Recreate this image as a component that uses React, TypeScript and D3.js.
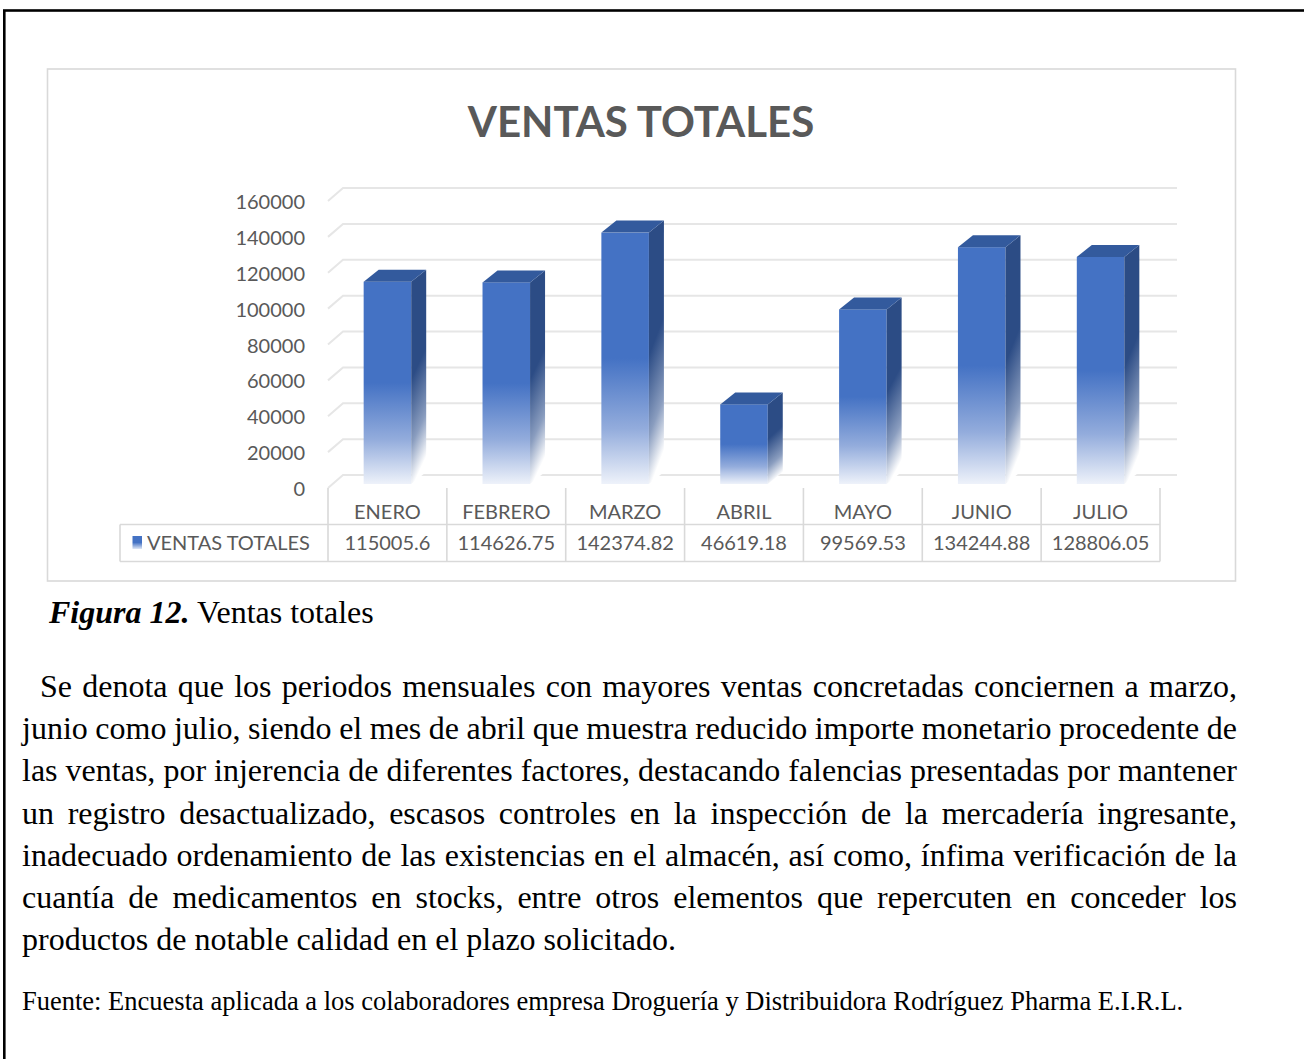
import React from 'react';
import * as d3 from 'd3';

const chartTitle = 'VENTAS TOTALES';
const seriesName = 'VENTAS TOTALES';
const categories = ['ENERO', 'FEBRERO', 'MARZO', 'ABRIL', 'MAYO', 'JUNIO', 'JULIO'];
const ventas = [115005.6, 114626.75, 142374.82, 46619.18, 99569.53, 134244.88, 128806.05];
const yTicks = [0, 20000, 40000, 60000, 80000, 100000, 120000, 140000, 160000];

const captionBold = 'Figura 12.';
const captionText = ' Ventas totales';
const paragraphLines = [
  'Se denota que los periodos mensuales con mayores ventas concretadas conciernen a marzo,',
  'junio como julio, siendo el mes de abril que muestra reducido importe monetario procedente de',
  'las ventas, por injerencia de diferentes factores, destacando falencias presentadas por mantener',
  'un registro desactualizado, escasos controles en la inspección de la mercadería ingresante,',
  'inadecuado ordenamiento de las existencias en el almacén, así como, ínfima verificación de la',
  'cuantía de medicamentos en stocks, entre otros elementos que repercuten en conceder los',
  'productos de notable calidad en el plazo solicitado.',
];
const sourceText =
  'Fuente: Encuesta aplicada a los colaboradores empresa Droguería y Distribuidora Rodríguez Pharma E.I.R.L.';

const SANS = "Lato, 'Open Sans', sans-serif";
const SERIF = "'Liberation Serif', 'Times New Roman', serif";
const TXT = '#595959';
const GRID = '#e6e6e6';
const TABLE = '#d9d9d9';

let _ctx: CanvasRenderingContext2D | null = null;
function measure(text: string, font: string): number {
  if (!_ctx) _ctx = document.createElement('canvas').getContext('2d');
  if (!_ctx) return text.length * 10;
  _ctx.font = font;
  return _ctx.measureText(text).width;
}

export default function App() {
  const W = 1304;
  const H = 1059;

  const x = d3.scaleBand<string>().domain(categories).range([328, 1160]).padding(0);
  const y = d3.scaleLinear().domain([0, 160000]).range([488, 201]);
  const bw = x.bandwidth();
  const barW = bw * 0.4;
  const dx = 15;
  const dyBar = 12;
  const dyWall = 13;
  const wallRight = 1177;
  const barBottom = y(0) - 4;

  // paragraph font fitted to the unjustified last line
  const pFs = Math.round((652 / measure(paragraphLines[6], `100px ${SERIF}`)) * 100 * 2) / 2;
  const pFont = `${pFs}px ${SERIF}`;
  const srcFs = Math.round((1166 / measure(sourceText, `100px ${SERIF}`)) * 100 * 2) / 2;

  const lineStart0 = 40;
  const lineStart = 22;
  const lineEnd = 1237;
  const firstBase = 697;
  const lineGap = 42.2;

  const lines = paragraphLines.map((line, i) => {
    const words = line.split(' ');
    const sx = i === 0 ? lineStart0 : lineStart;
    const widths = words.map((w) => measure(w, pFont));
    const last = i === paragraphLines.length - 1;
    const space = measure(' ', pFont);
    const gap = last
      ? space
      : (lineEnd - sx - d3.sum(widths)) / Math.max(1, words.length - 1);
    let cx = sx;
    const pos = words.map((w, k) => {
      const p = cx;
      cx += widths[k] + gap;
      return p;
    });
    return { words, pos, yb: firstBase + i * lineGap };
  });

  return (
    <svg
      width={W}
      height={H}
      viewBox={`0 0 ${W} ${H}`}
      style={{ position: 'absolute', left: 0, top: 0, background: '#fff' }}
    >
      <defs>
        <linearGradient id="gFront" x1="0" y1="0" x2="0" y2="1">
          <stop offset="0" stopColor="#4472c4" />
          <stop offset="0.5" stopColor="#4472c4" />
          <stop offset="0.78" stopColor="#93acdc" />
          <stop offset="1" stopColor="#eef2fa" />
        </linearGradient>
        <linearGradient id="gSide" x1="0" y1="0" x2="0.15" y2="1">
          <stop offset="0" stopColor="#2c4c85" />
          <stop offset="0.5" stopColor="#2c4c85" />
          <stop offset="0.8" stopColor="#8a9dbf" />
          <stop offset="1" stopColor="#ffffff" />
        </linearGradient>
        <linearGradient id="gKey" x1="0" y1="0" x2="0" y2="1">
          <stop offset="0" stopColor="#4472c4" />
          <stop offset="0.5" stopColor="#4472c4" />
          <stop offset="1" stopColor="#dfe7f5" />
        </linearGradient>
      </defs>

      <rect x={0} y={0} width={W} height={H} fill="#fff" />

      {/* outer frame */}
      <rect x={4.3} y={10.5} width={1400} height={1100} fill="none" stroke="#000" strokeWidth={2.6} />

      {/* chart area */}
      <rect x={47.5} y={69} width={1188} height={512} fill="#fff" stroke={TABLE} strokeWidth={1.6} />

      <text
        x={641}
        y={137}
        textAnchor="middle"
        fontFamily={SANS}
        fontWeight={700}
        fontSize={42}
        fill={TXT}
      >
        {chartTitle}
      </text>

      {/* gridlines with side-wall diagonals */}
      {yTicks.map((t) => (
        <path
          key={'g' + t}
          d={`M${x.range()[0]},${y(t)} L${x.range()[0] + dx},${y(t) - dyWall} L${wallRight},${y(t) - dyWall}`}
          fill="none"
          stroke={GRID}
          strokeWidth={2}
        />
      ))}

      {/* y axis labels */}
      {yTicks.map((t) => (
        <text
          key={'yl' + t}
          x={305}
          y={y(t)}
          dominantBaseline="central"
          textAnchor="end"
          fontFamily={SANS}
          fontSize={20}
          fill={TXT}
        >
          {t}
        </text>
      ))}

      {/* 3D bars */}
      {categories.map((c, i) => {
        const cx = (x(c) as number) + bw / 2;
        const x0 = cx - barW / 2;
        const x1 = cx + barW / 2;
        const top = y(ventas[i]);
        return (
          <g key={'b' + c}>
            <rect x={x0} y={top} width={barW} height={barBottom - top} fill="url(#gFront)" />
            <path
              d={`M${x1},${top} L${x1 + dx},${top - dyBar} L${x1 + dx},${barBottom - dyBar} L${x1},${barBottom} Z`}
              fill="url(#gSide)"
            />
            <path
              d={`M${x0},${top} L${x0 + dx},${top - dyBar} L${x1 + dx},${top - dyBar} L${x1},${top} Z`}
              fill="#335a9d"
            />
          </g>
        );
      })}

      {/* data table */}
      <g stroke={TABLE} strokeWidth={1.6} fill="none">
        {d3.range(categories.length + 1).map((k) => (
          <line key={'v' + k} x1={328 + k * bw} x2={328 + k * bw} y1={488} y2={561.5} />
        ))}
        <line x1={120} x2={1160} y1={524.5} y2={524.5} />
        <line x1={120} x2={1160} y1={561.5} y2={561.5} />
        <line x1={120} x2={120} y1={524.5} y2={561.5} />
      </g>
      {categories.map((c, i) => (
        <g key={'t' + c}>
          <text
            x={(x(c) as number) + bw / 2}
            y={519}
            textAnchor="middle"
            fontFamily={SANS}
            fontSize={20}
            fill={TXT}
          >
            {c}
          </text>
          <text
            x={(x(c) as number) + bw / 2}
            y={550}
            textAnchor="middle"
            fontFamily={SANS}
            fontSize={20}
            fill={TXT}
          >
            {String(ventas[i])}
          </text>
        </g>
      ))}
      <rect x={132.5} y={536} width={9.5} height={13} fill="url(#gKey)" />
      <text x={147} y={550} fontFamily={SANS} fontSize={20} fill={TXT}>
        {seriesName}
      </text>

      {/* caption */}
      <text x={49} y={623} fontFamily={SERIF} fontSize={pFs} fill="#000">
        <tspan fontWeight={700} fontStyle="italic">
          {captionBold}
        </tspan>
        <tspan>{captionText}</tspan>
      </text>

      {/* paragraph */}
      {lines.map((ln, i) => (
        <text key={'p' + i} y={ln.yb} fontFamily={SERIF} fontSize={pFs} fill="#000">
          {ln.words.map((w, k) => (
            <tspan key={k} x={ln.pos[k]}>
              {w}
            </tspan>
          ))}
        </text>
      ))}

      {/* source */}
      <text x={22} y={1010} fontFamily={SERIF} fontSize={srcFs} fill="#000">
        {sourceText}
      </text>
    </svg>
  );
}
